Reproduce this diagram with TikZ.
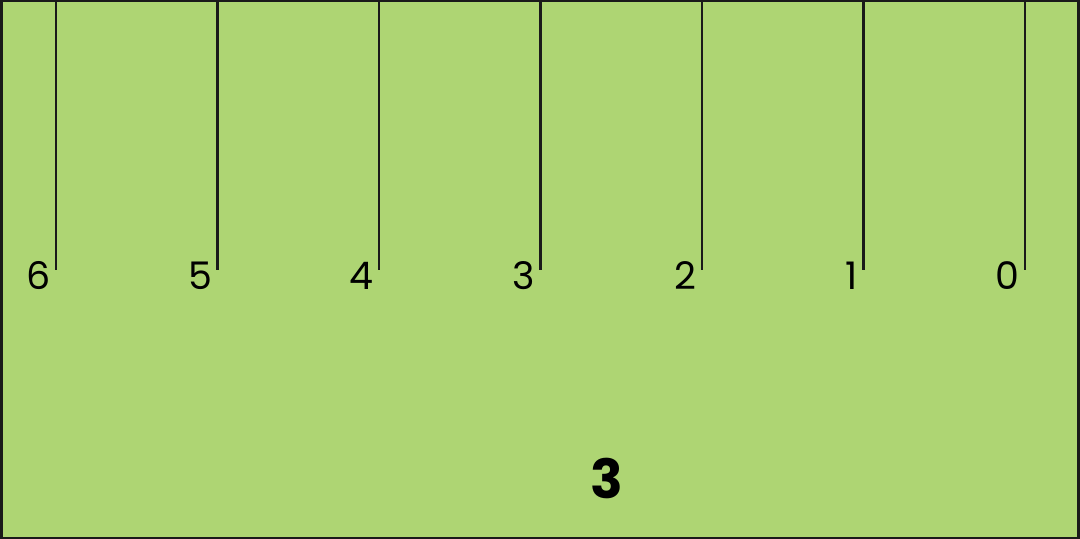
\documentclass[tikz,border=0pt]{standalone}
\usepackage{fontspec}
\setmainfont{Poppins}
\usepackage{tikz}
\usetikzlibrary{positioning,calc}
\definecolor{rulerG}{HTML}{AED573}
\definecolor{rulerD}{HTML}{1A1A1A}
\tikzset{
  tickline/.style={draw=rulerD, line width=1.1pt},
  ticklabel/.style={font=\fontsize{19}{19}\selectfont, text=black, inner sep=0pt, anchor=east},
  bigmark/.style={font=\fontsize{27}{27}\selectfont\bfseries, text=black, inner sep=0pt}
}
\begin{document}
\begin{tikzpicture}[x=0.5pt, y=-0.5pt]
\useasboundingbox (0,0) rectangle (1080,539);
\fill[rulerG] (0,0) rectangle (1080,539);
\draw[rulerD, line width=1.5pt] (1.5,1) rectangle (1078.5,538);
% ticks, counted from the right
\foreach \k in {0,...,6} {
  \pgfmathsetmacro{\xx}{56+161.5*\k}
  \pgfmathtruncatemacro{\lab}{6-\k}
  \coordinate (top\lab) at (\xx,0);
  \coordinate (bot\lab) at (\xx,270);
  \draw[tickline] (top\lab) -- (bot\lab);
  \node[ticklabel] (lab\lab) at ($(bot\lab)+(-5,6)$) {\lab};
}
\node[bigmark] (mark) at (607,478) {3};
\end{tikzpicture}
\end{document}
